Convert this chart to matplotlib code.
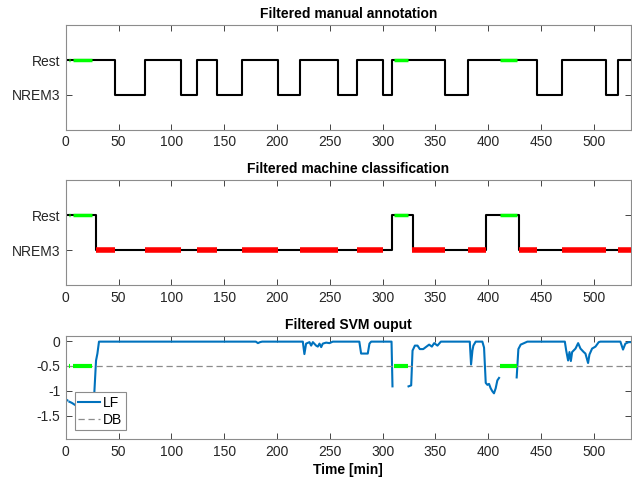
import numpy as np
import matplotlib
matplotlib.use("Agg")
import matplotlib.pyplot as plt

plt.rcParams['font.family'] = ['Liberation Sans', 'DejaVu Sans']
plt.rcParams['axes.unicode_minus'] = False

# manual annotation (1 = Rest, 0 = NREM3), steps-post
manual_t = [0, 47, 75, 109, 124, 143, 167, 201, 222, 258, 276, 300, 309, 359, 381,
            446, 470, 512, 523, 535]
manual_s = [1, 0, 1, 0, 1, 0, 1, 0, 1, 0, 1, 0, 1, 0, 1, 0, 1, 0, 1, 1]

# machine classification
machine_t = [0, 28.6, 308.5, 328.4, 398, 429, 535]
machine_s = [1, 0, 1, 0, 1, 0, 0]

# highlighted periods
red_start = [29, 75, 124, 167, 222, 276, 328, 381, 429, 470, 523]
red_end = [47, 109, 143, 201, 258, 300, 359, 398, 446, 512, 535]
green_start = [3, 7, 311, 411]
green_end = [4, 25, 324, 427]

# filtered SVM output (nan = gap)
svm_t = [0, 1.5, 2.5, 3.5, 5.6, 10, 18, 26.8, 28.7, 30, 31.5, 33, 180, 182, 184, 186,
         224.5, 226, 227.6, 230.8, 232.4, 234, 237.1, 238.7, 240.3, 241.9, 243.4, 246.6,
         249.7, 252.9, 278, 279.7, 286, 287.6, 289.2, 308.5, 309.4, 310, 324.6, 327.1,
         328.4, 330.6, 333.1, 335.3, 338.5, 341.6, 344.1, 346.7, 348.9, 352, 355.2, 382.6,
         383.8, 385.1, 386, 388.2, 394.5, 396.1, 397.7, 399.3, 400.8, 402.4, 404, 405.5,
         407.1, 408.7, 410.3, 411, 427, 428.6, 430.8, 434, 437.1, 472.6, 473.9, 475.7,
         477, 478.3, 479.5, 482.7, 485.2, 487.4, 490.5, 492.1, 494.6, 495.9, 498.4, 501.6,
         504.7, 506.3, 525.2, 527.7, 529.9, 533, 535]
svm_v = [-1.17, -1.19, np.nan, -1.22, -1.24, -1.3, -1.35, -1.15, -0.39, -0.25, -0.01, -0.01,
         -0.01, -0.04, -0.02, -0.01, -0.01, -0.26, -0.05, -0.02, -0.09, -0.02, -0.09, -0.11,
         -0.05, -0.12, -0.05, -0.03, -0.04, -0.01, -0.01, -0.25, -0.25, -0.05, -0.01, -0.01,
         -0.91, np.nan, -0.91, -0.89, -0.19, -0.09, -0.09, -0.16, -0.16, -0.11, -0.07, -0.11,
         -0.04, -0.09, -0.01, -0.01, -0.47, -0.19, -0.09, -0.01, -0.01, -0.13, -0.84, -0.88,
         -0.86, -0.95, -1.01, -1.05, -0.95, -0.79, -0.74, np.nan, -0.73, -0.16, -0.07, -0.04,
         -0.01, -0.01, -0.19, -0.39, -0.22, -0.40, -0.22, -0.15, -0.04, -0.15, -0.22, -0.25,
         -0.44, -0.27, -0.15, -0.11, -0.02, -0.01, -0.01, -0.17, -0.05, -0.02, -0.02]
db_level = -0.5

xticks = [0, 50, 100, 150, 200, 250, 300, 350, 400, 450, 500]
svm_yticks = [0, -0.5, -1, -1.5]
svm_ylabels = ['0', '-0.5', '-1', '-1.5']

blue = (0, 0.447, 0.741)
green = (0, 1, 0)
red = (1, 0, 0)


def style(ax):
    ax.set_xlim(0, 535)
    ax.set_xticks(xticks)
    ax.tick_params(direction='in', top=True, right=True, length=4, width=0.6,
                   colors='#262626', labelsize=10, pad=4)
    for s in ax.spines.values():
        s.set_color('#8c8c8c')
        s.set_linewidth(0.8)


def segs(ax, starts, ends, y, color, lw):
    for a, b in zip(starts, ends):
        ax.plot([a, b], [y, y], color=color, lw=lw, solid_capstyle='butt', zorder=3)


fig = plt.figure(figsize=(6.32, 4.83), dpi=100)
ax0 = fig.add_axes([0.104, 0.731, 0.894, 0.217])
ax1 = fig.add_axes([0.104, 0.410, 0.894, 0.217])
ax2 = fig.add_axes([0.104, 0.091, 0.894, 0.213])

ax0.plot(manual_t, manual_s, drawstyle='steps-post', color='k', lw=1.5)
segs(ax0, green_start, green_end, 1, green, 2.5)
ax0.set_ylim(-1, 2)
ax0.set_yticks([0, 1])
ax0.set_yticklabels(['NREM3', 'Rest'])
ax0.set_title('Filtered manual annotation', fontsize=10, fontweight='bold', pad=5)
style(ax0)

ax1.plot(machine_t, machine_s, drawstyle='steps-post', color='k', lw=1.5)
segs(ax1, red_start, red_end, 0, red, 4)
segs(ax1, green_start, green_end, 1, green, 2.5)
ax1.set_ylim(-1, 2)
ax1.set_yticks([0, 1])
ax1.set_yticklabels(['NREM3', 'Rest'])
ax1.set_title('Filtered machine classification', fontsize=10, fontweight='bold', pad=5)
style(ax1)

ax2.plot(svm_t, svm_v, color=blue, lw=1.5, label='LF')
ax2.plot([0, 535], [db_level, db_level], color='#8c8c8c', lw=0.9, dashes=(5, 3),
         label='DB')
segs(ax2, green_start, green_end, db_level, green, 3)
ax2.set_ylim(-1.97, 0.1)
ax2.set_yticks(svm_yticks)
ax2.set_yticklabels(svm_ylabels)
ax2.set_title('Filtered SVM ouput', fontsize=10, fontweight='bold', pad=5)
ax2.set_xlabel('Time [min]', fontsize=10, fontweight='bold', labelpad=3)
style(ax2)
leg = ax2.legend(loc='lower left', bbox_to_anchor=(0.016, 0.087), borderaxespad=0,
                 fancybox=False, framealpha=1, edgecolor='#8c8c8c', fontsize=10,
                 handlelength=1.6, handletextpad=0.2, borderpad=0.25, labelspacing=0.2)
leg.get_frame().set_linewidth(0.8)
leg.set_zorder(10)

fig.savefig('out.png', dpi=100)
